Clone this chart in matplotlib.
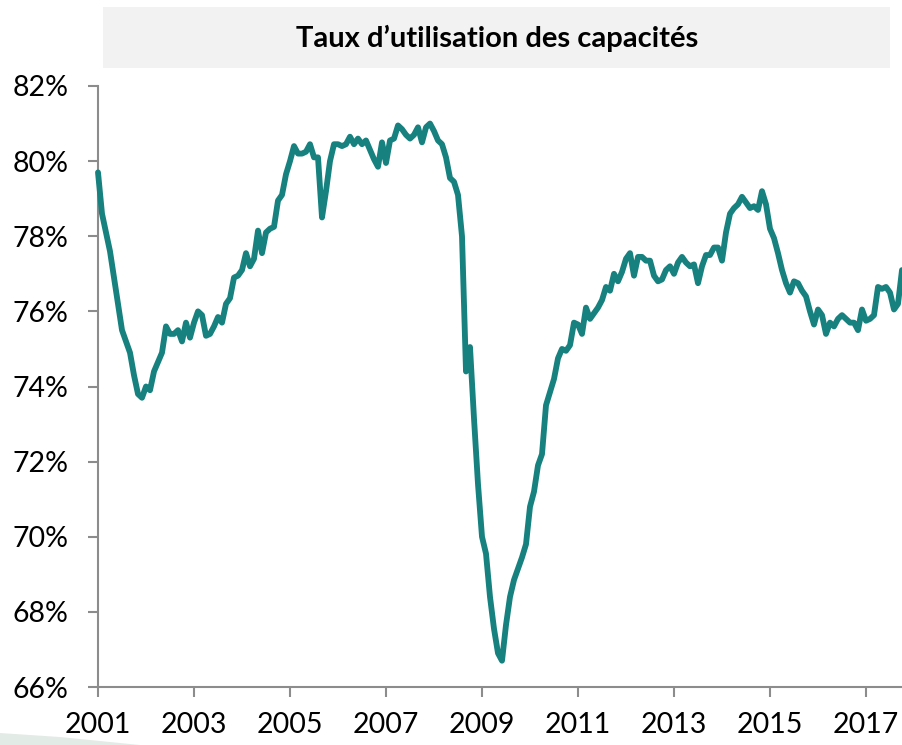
#!/usr/bin/env python3
"""Capacity utilisation rate, monthly, Jan 2001 - Oct 2017."""

import matplotlib
matplotlib.use("Agg")
import matplotlib.patches as patches
import matplotlib.pyplot as plt
import numpy as np

plt.rcParams["font.family"] = ["Lato", "DejaVu Sans"]

title = "Taux d\u2019utilisation des capacités"
start_year = 2001

# Monthly values (%), starting January 2001.
utilisation = [
    79.7, 78.6, 78.1, 77.6, 76.9, 76.2, 75.5, 75.2, 74.9, 74.3, 73.8, 73.7,  # 2001
    74.0, 73.9, 74.4, 74.65, 74.9, 75.6, 75.4, 75.4, 75.5, 75.2, 75.7, 75.3,  # 2002
    75.7, 76.0, 75.9, 75.35, 75.4, 75.6, 75.85, 75.7, 76.2, 76.35, 76.9, 76.95,  # 2003
    77.1, 77.55, 77.2, 77.4, 78.15, 77.55, 78.1, 78.2, 78.25, 78.95, 79.1, 79.65,  # 2004
    80.0, 80.4, 80.2, 80.2, 80.25, 80.45, 80.1, 80.1, 78.5, 79.2, 80.0, 80.45,  # 2005
    80.45, 80.4, 80.45, 80.65, 80.45, 80.6, 80.45, 80.55, 80.3, 80.05, 79.85, 80.5,  # 2006
    79.95, 80.55, 80.6, 80.95, 80.85, 80.7, 80.6, 80.7, 80.9, 80.5, 80.9, 81.0,  # 2007
    80.8, 80.55, 80.45, 80.1, 79.55, 79.45, 79.1, 78.0, 74.4, 75.05, 73.15, 71.4,  # 2008
    70.0, 69.55, 68.4, 67.55, 66.9, 66.7, 67.65, 68.4, 68.85, 69.15, 69.45, 69.8,  # 2009
    70.8, 71.2, 71.9, 72.2, 73.5, 73.85, 74.2, 74.75, 75.0, 74.95, 75.1, 75.7,  # 2010
    75.65, 75.4, 76.1, 75.8, 75.95, 76.1, 76.3, 76.65, 76.55, 77.0, 76.8, 77.05,  # 2011
    77.4, 77.55, 76.95, 77.45, 77.45, 77.35, 77.35, 76.95, 76.8, 76.85, 77.1, 77.2,  # 2012
    77.0, 77.3, 77.45, 77.3, 77.2, 77.25, 76.75, 77.2, 77.5, 77.5, 77.7, 77.7,  # 2013
    77.35, 78.1, 78.6, 78.75, 78.85, 79.05, 78.9, 78.75, 78.8, 78.7, 79.2, 78.85,  # 2014
    78.2, 77.95, 77.55, 77.1, 76.75, 76.5, 76.8, 76.75, 76.55, 76.4, 76.0, 75.65,  # 2015
    76.05, 75.9, 75.4, 75.7, 75.6, 75.8, 75.9, 75.8, 75.7, 75.7, 75.5, 76.05,  # 2016
    75.75, 75.8, 75.9, 76.65, 76.6, 76.65, 76.5, 76.05, 76.2, 77.1,  # 2017
]

year_ticks = [2001, 2003, 2005, 2007, 2009, 2011, 2013, 2015, 2017]
pct_ticks = [66, 68, 70, 72, 74, 76, 78, 80, 82]

dates = start_year + np.arange(len(utilisation)) / 12.0

fig = plt.figure(figsize=(9.03, 7.45), dpi=100)
ax = fig.add_axes([98 / 903, 58 / 745, 805 / 903, 601 / 745])

axis_grey = "#8c8c8c"
ax.plot(dates, utilisation, color="#16817f", linewidth=4.2,
        solid_joinstyle="round", solid_capstyle="round", clip_on=False, zorder=3)

ax.set_xlim(2001, 2001 + 805 / 48)
ax.set_ylim(66, 82)
ax.set_xticks(year_ticks)
ax.set_xticklabels([str(y) for y in year_ticks])
ax.set_yticks(pct_ticks)
ax.set_yticklabels([f"{p}%" for p in pct_ticks])

for side in ("top", "right"):
    ax.spines[side].set_visible(False)
for side in ("left", "bottom"):
    ax.spines[side].set_color(axis_grey)
    ax.spines[side].set_linewidth(1.5)

ax.tick_params(axis="both", direction="out", length=7, width=1.5,
               color=axis_grey, labelsize=20.5, labelcolor="black")
ax.tick_params(axis="y", pad=14)
ax.tick_params(axis="x", pad=11)

# Grey title banner above the plot.
fig.patches.append(patches.Rectangle(
    (103 / 903, 1 - 68 / 745), 787 / 903, 61 / 745,
    transform=fig.transFigure, facecolor="#f2f2f2", edgecolor="none", zorder=0))
fig.text(497 / 903, 1 - 38 / 745, title, ha="center", va="center",
         fontsize=21, fontweight="bold", color="black")

# Faint slide decoration in the bottom-left corner.
fig.patches.append(patches.Polygon(
    [(0, 0), (0, 12 / 745), (60 / 903, 8 / 745), (140 / 903, 0)],
    closed=True, transform=fig.transFigure, facecolor="#e3ebe6",
    edgecolor="none", zorder=0))

fig.savefig("out.png", dpi=100)
plt.close(fig)
